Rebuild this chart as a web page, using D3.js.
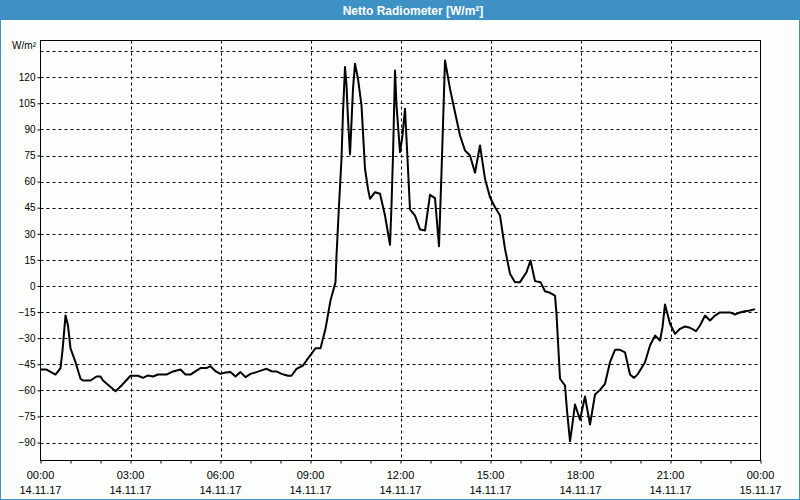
<!DOCTYPE html>
<html><head><meta charset="utf-8">
<script src="https://cdn.jsdelivr.net/npm/d3@7"></script>
<style>
html,body{margin:0;padding:0;background:#fff;}
svg{display:block;}
</style></head>
<body>
<script>
const titleText = "Netto Radiometer [W/m²]";
const unitLabel = "W/m²";
// minutes after 14.11.17 00:00
const minutes = [0,12,30,40,44,50,55,60,70,80,85,100,112,120,125,150,162,180,195,205,215,225,235,252,265,280,290,300,312,320,332,340,350,360,370,380,390,400,410,420,432,445,452,462,472,482,495,502,512,525,532,540,550,560,570,580,590,592,597,602,605,609,612,615,619,622,625,629,635,642,649,655,659,669,679,689,699,702,705,709,712,719,724,729,733,739,749,759,769,779,789,797,802,809,819,829,839,849,859,869,879,889,899,909,919,929,939,949,959,972,980,989,1000,1009,1019,1029,1032,1039,1049,1053,1059,1063,1069,1079,1089,1099,1109,1119,1129,1139,1149,1159,1169,1179,1187,1195,1209,1219,1229,1239,1244,1249,1259,1269,1279,1289,1299,1311,1319,1329,1339,1349,1359,1379,1389,1399,1409,1419,1429];
const values = [-48.0,-48.0,-50.9,-47.2,-37.1,-17.0,-22.7,-35.9,-43.8,-53.3,-54.3,-54.3,-52.0,-52.0,-54.3,-60.5,-57.2,-51.6,-51.6,-52.8,-51.4,-52.0,-50.9,-50.9,-49.1,-48.0,-50.9,-50.9,-48.6,-47.2,-47.2,-46.1,-49.0,-50.5,-49.7,-49.5,-52.0,-49.5,-52.4,-50.5,-49.5,-48.2,-47.6,-49.0,-49.1,-50.5,-51.6,-51.6,-47.6,-45.7,-42.8,-39.7,-35.8,-35.8,-24.6,-8.3,2.2,17.5,46.3,73.1,99.9,125.8,115.3,96.1,75.6,94.2,113.4,127.7,119.1,103.8,67.4,55.9,50.1,53.9,53.0,40.5,23.7,46.3,75.0,123.9,103.8,76.9,86.5,101.9,78.9,44.0,40.5,32.5,31.9,52.4,50.5,22.9,65.4,129.6,113.4,99.9,86.5,77.9,75.0,65.1,80.8,61.6,51.0,45.3,40.5,21.4,7.0,2.2,2.2,7.9,14.7,2.8,2.2,-3.0,-3.9,-5.5,-16.0,-53.3,-57.2,-71.6,-89.2,-81.2,-68.1,-76.9,-63.5,-79.6,-62.4,-59.7,-56.2,-43.8,-36.7,-36.7,-38.1,-50.9,-52.8,-50.5,-43.8,-34.2,-28.5,-31.3,-23.7,-10.6,-21.7,-27.5,-24.6,-23.3,-24.0,-26.0,-22.7,-17.0,-19.8,-17.0,-15.2,-15.2,-16.4,-15.2,-14.5,-14.1,-13.3];
const yTicks = [-90,-75,-60,-45,-30,-15,0,15,30,45,60,75,90,105,120];
const yGrid = [-90,-75,-60,-45,-30,-15,0,15,30,45,60,75,90,105,120,135];
const xMajorHours = [0,3,6,9,12,15,18,21,24];

const W = 800, H = 500;
const m = {left:40.5, right:760.5, top:40.5, bottom:460.5};
const start = new Date(2017,10,14,0,0);
const end = d3.timeHour.offset(start,24);

const svg = d3.select("body").append("svg").attr("width",W).attr("height",H);
svg.append("rect").attr("x",0).attr("y",0).attr("width",W).attr("height",H).attr("fill","#fcfefc");
svg.append("rect").attr("x",0).attr("y",0).attr("width",W).attr("height",20).attr("fill","#3d91c4");
svg.append("rect").attr("x",0.5).attr("y",0.5).attr("width",W-1).attr("height",H-1).attr("fill","none").attr("stroke","#3d91c4");
svg.append("text").attr("x",413).attr("y",14.5).attr("text-anchor","middle")
  .attr("font-family","Liberation Sans, Arial, sans-serif").attr("font-size","12px").attr("font-weight","bold")
  .attr("fill","#fff").text(titleText);

const x = d3.scaleTime().domain([start,end]).range([m.left,m.right]);
const y = d3.scaleLinear().domain([-100.3,141.1]).range([m.bottom,m.top]);

const font = "Liberation Sans, Arial, sans-serif";
// grid
const g = svg.append("g");
g.selectAll("line.hg").data(yGrid).enter().append("line")
  .attr("x1",m.left).attr("x2",m.right)
  .attr("y1",d=>Math.round(y(d))+0.5).attr("y2",d=>Math.round(y(d))+0.5)
  .attr("stroke","#000").attr("stroke-width",1).attr("stroke-dasharray","3,3");
const majorDates = xMajorHours.map(h=>d3.timeHour.offset(start,h));
g.selectAll("line.vg").data(majorDates.slice(1,-1)).enter().append("line")
  .attr("x1",d=>Math.round(x(d))+0.5).attr("x2",d=>Math.round(x(d))+0.5)
  .attr("y1",m.top).attr("y2",m.bottom)
  .attr("stroke","#000").attr("stroke-width",1).attr("stroke-dasharray","3,3");

// line
const pts = minutes.map((mm,i)=>({t:d3.timeMinute.offset(start,mm), v:values[i]}));
svg.append("path").datum(pts)
  .attr("d", d3.line().x(d=>x(d.t)).y(d=>y(d.v)))
  .attr("fill","none").attr("stroke","#000").attr("stroke-width",2).attr("stroke-linejoin","round");

// frame
svg.append("rect").attr("x",m.left).attr("y",m.top).attr("width",m.right-m.left).attr("height",m.bottom-m.top)
  .attr("fill","none").attr("stroke","#000").attr("stroke-width",1);

// y axis
const yAxis = d3.axisLeft(y).tickValues(yTicks).tickSize(3).tickPadding(2).tickFormat(d3.format("d"));
const ya = svg.append("g").attr("transform",`translate(${m.left},0)`).call(yAxis);
ya.select(".domain").remove();
ya.selectAll("text").attr("font-family",font).attr("font-size","10px").attr("fill","#000");
ya.selectAll("line").attr("stroke","#000");
svg.append("text").attr("x",36).attr("y",49).attr("text-anchor","end")
  .attr("font-family",font).attr("font-size","10px").attr("fill","#000").text(unitLabel);

// x axis minor ticks (hourly)
const xMinor = d3.axisBottom(x).ticks(d3.timeHour.every(1)).tickSize(3).tickFormat("");
const xm = svg.append("g").attr("transform",`translate(0,${m.bottom})`).call(xMinor);
xm.select(".domain").remove();
xm.selectAll("line").attr("stroke","#000");

// x labels
const fTime = d3.timeFormat("%H:%M"), fDate = d3.timeFormat("%d.%m.%y");
const xl = svg.append("g");
xl.selectAll("text.t").data(majorDates).enter().append("text")
  .attr("x",d=>x(d)).attr("y",479).attr("text-anchor","middle")
  .attr("font-family",font).attr("font-size","11px").attr("fill","#000").text(d=>fTime(d));
xl.selectAll("text.d").data(majorDates).enter().append("text")
  .attr("x",d=>x(d)).attr("y",494).attr("text-anchor","middle")
  .attr("font-family",font).attr("font-size","11px").attr("fill","#000").text(d=>fDate(d));
</script>
</body></html>
